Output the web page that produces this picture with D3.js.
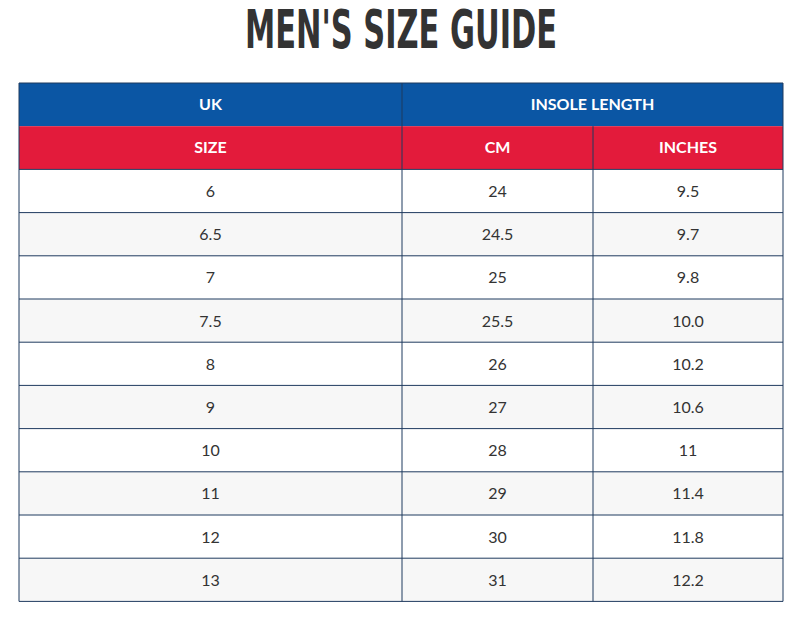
<!DOCTYPE html>
<html><head><meta charset="utf-8">
<script src="https://cdn.jsdelivr.net/npm/d3@7"></script>
<style>body{margin:0;background:#fff}</style></head>
<body><svg id="c" width="792" height="633"></svg>
<script>
const title = "MEN'S SIZE GUIDE";
const groupHeaders = [{label:"UK", span:1},{label:"INSOLE LENGTH", span:2}];
const columns = ["SIZE","CM","INCHES"];
const sizes = ["6","6.5","7","7.5","8","9","10","11","12","13"];
const cm = ["24","24.5","25","25.5","26","27","28","29","30","31"];
const inches = ["9.5","9.7","9.8","10.0","10.2","10.6","11","11.4","11.8","12.2"];

const svg = d3.select("#c");
const colEdges = [19, 402, 593, 783];
const tableTop = 83, rowH = 43.2;
const nRows = sizes.length + 2;
const y = d3.scaleLinear().domain([0, nRows]).range([tableTop, tableTop + rowH*nRows]);
const border = "#1f3a5f";

svg.append("text").attr("x",401).attr("y",48).attr("text-anchor","middle")
  .attr("font-family","'Liberation Sans Narrow','DejaVu Sans Condensed',sans-serif")
  .attr("font-weight","bold").attr("font-size",54).attr("fill","#333")
  .attr("textLength",312).attr("lengthAdjust","spacingAndGlyphs")
  .text(title);

let ci = 0;
groupHeaders.forEach(g => {
  const x0 = colEdges[ci], x1 = colEdges[ci+g.span]; ci += g.span;
  svg.append("rect").attr("x",x0).attr("y",y(0)).attr("width",x1-x0).attr("height",rowH).attr("fill","#0b56a4");
  svg.append("text").attr("x",(x0+x1)/2).attr("y",y(0.5)+5).attr("text-anchor","middle")
    .attr("font-family","Lato,'Open Sans',sans-serif").attr("font-weight","bold").attr("font-size",16)
    .attr("fill","#fff").text(g.label);
});
columns.forEach((c,i) => {
  svg.append("rect").attr("x",colEdges[i]).attr("y",y(1)).attr("width",colEdges[i+1]-colEdges[i]).attr("height",rowH).attr("fill","#e31b3b");
  svg.append("text").attr("x",(colEdges[i]+colEdges[i+1])/2).attr("y",y(1.5)+5).attr("text-anchor","middle")
    .attr("font-family","Lato,'Open Sans',sans-serif").attr("font-weight","bold").attr("font-size",16)
    .attr("fill","#fff").text(c);
});
const data = sizes.map((s,i)=>[s, cm[i], inches[i]]);
data.forEach((row,r) => {
  svg.append("rect").attr("x",colEdges[0]).attr("y",y(r+2)).attr("width",colEdges[3]-colEdges[0]).attr("height",rowH)
    .attr("fill", r%2 ? "#f7f7f7" : "#fff");
  row.forEach((v,i) => {
    svg.append("text").attr("x",(colEdges[i]+colEdges[i+1])/2).attr("y",y(r+2.5)+6).attr("text-anchor","middle")
      .attr("font-family","Lato,'Open Sans',sans-serif").attr("font-size",16).attr("fill","#333").text(v);
  });
});
for (let r=0;r<=nRows;r++){
  if (r===1) continue;
  svg.append("line").attr("x1",colEdges[0]).attr("x2",colEdges[3]).attr("y1",y(r)).attr("y2",y(r)).attr("stroke",border);
}
colEdges.forEach((x,i)=>{
  const y0 = (i===2) ? y(1) : y(0);
  svg.append("line").attr("x1",x).attr("x2",x).attr("y1",y0).attr("y2",y(nRows)).attr("stroke",border);
});
</script></body></html>
